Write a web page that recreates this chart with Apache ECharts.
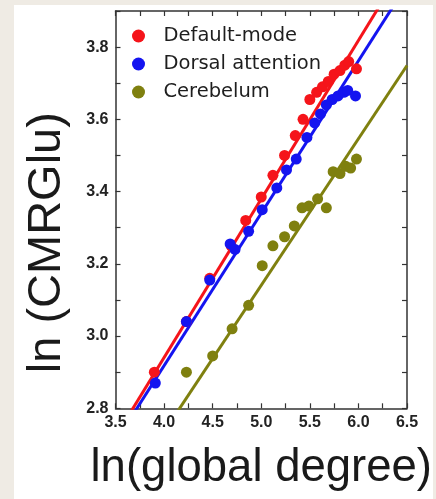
<!DOCTYPE html>
<html>
<head>
<meta charset="utf-8">
<script src="https://cdn.jsdelivr.net/npm/echarts@6/dist/echarts.min.js"></script>
<style>
html,body{margin:0;padding:0;background:#efebe4;}
#panel{position:absolute;left:14px;top:5px;width:419px;height:494px;background:#ffffff;}
#chart{position:absolute;left:0;top:0;width:436px;height:499px;}
</style>
</head>
<body>
<div id="panel"></div>
<div id="chart"></div>
<script>
// Series data: [ln(global degree), ln(CMRGlu)]
const defaultMode = [
  [3.90, 2.90], [4.23, 3.04], [4.47, 3.16], [4.69, 3.25], [4.84, 3.32],
  [5.00, 3.385], [5.12, 3.445], [5.24, 3.50], [5.35, 3.555], [5.43, 3.60],
  [5.50, 3.655], [5.57, 3.675], [5.63, 3.69], [5.69, 3.705], [5.75, 3.725],
  [5.81, 3.735], [5.86, 3.75], [5.90, 3.76], [5.98, 3.74]
];
const dorsalAttention = [
  [3.91, 2.87], [4.23, 3.04], [4.47, 3.155], [4.68, 3.255], [4.73, 3.24],
  [4.87, 3.29], [5.01, 3.35], [5.16, 3.41], [5.26, 3.46], [5.36, 3.49],
  [5.47, 3.55], [5.55, 3.59], [5.61, 3.615], [5.67, 3.64], [5.73, 3.655],
  [5.79, 3.665], [5.85, 3.675], [5.89, 3.68], [5.97, 3.665]
];
const cerebelum = [
  [4.23, 2.90], [4.50, 2.945], [4.70, 3.02], [4.87, 3.085], [5.01, 3.195],
  [5.12, 3.25], [5.24, 3.275], [5.34, 3.305], [5.42, 3.355], [5.49, 3.36],
  [5.58, 3.38], [5.67, 3.355], [5.74, 3.455], [5.81, 3.45], [5.87, 3.47],
  [5.92, 3.465], [5.98, 3.49]
];
// Fitted lines (endpoints)
const fitDefaultMode = [[3.5, 2.721], [6.5, 4.038]];
const fitDorsalAttention = [[3.5, 2.707], [6.5, 3.973]];
const fitCerebelum = [[4.0, 2.735], [6.5, 3.749]];

const seriesNames = ['Default-mode', 'Dorsal attention', 'Cerebelum'];
const colors = ['#f5141a', '#1414f0', '#7f800f'];
const xTitle = 'ln(global degree)';
const yTitle = 'ln (CMRGlu)';

const axisColor = '#333333';
const tickLabelStyle = {fontFamily: 'Liberation Sans, Arial, sans-serif', fontWeight: 'bold', fontSize: 16, color: '#222222'};

function xAxisBase(pos, showLabels) {
  return {
    type: 'value', position: pos, min: 3.5, max: 6.5, interval: 0.25,
    axisLine: {show: true, onZero: false, lineStyle: {color: axisColor, width: 1.5}},
    axisTick: {show: true, inside: true, length: 5, lineStyle: {color: axisColor, width: 1.2}},
    splitLine: {show: false},
    axisLabel: Object.assign({
      show: showLabels, margin: 6,
      formatter: v => (Math.round(v * 4) % 2 === 0 ? v.toFixed(1) : '')
    }, tickLabelStyle)
  };
}
function yAxisBase(pos, showLabels) {
  return {
    type: 'value', position: pos, min: 2.8, max: 3.9, interval: 0.1,
    axisLine: {show: true, onZero: false, lineStyle: {color: axisColor, width: 1.5}},
    axisTick: {show: true, inside: true, length: 5, lineStyle: {color: axisColor, width: 1.2}},
    splitLine: {show: false},
    axisLabel: Object.assign({
      show: showLabels, margin: 7,
      formatter: v => (Math.round(v * 10) % 2 === 0 ? v.toFixed(1) : '')
    }, tickLabelStyle)
  };
}

const xMain = xAxisBase('bottom', true);
xMain.name = xTitle;
xMain.nameLocation = 'middle';
xMain.nameGap = 37;
xMain.nameTextStyle = {fontFamily: 'Liberation Sans, Arial, sans-serif', fontSize: 45.5, color: '#1a1a1a'};

const yMain = yAxisBase('left', true);
yMain.name = yTitle;
yMain.nameLocation = 'middle';
yMain.nameGap = 45;
yMain.nameTextStyle = {fontFamily: 'Liberation Sans, Arial, sans-serif', fontSize: 47, color: '#1a1a1a', padding: [0, 66, 0, 0]};

const chart = echarts.init(document.getElementById('chart'), null, {renderer: 'canvas'});
chart.setOption({
  backgroundColor: 'transparent',
  animation: false,
  grid: {left: 115.5, right: 29, top: 11, bottom: 90.7, containLabel: false},
  xAxis: [xMain, xAxisBase('top', false)],
  yAxis: [yMain, yAxisBase('right', false)],
  legend: {
    data: seriesNames,
    orient: 'vertical',
    left: 127, top: 21,
    icon: 'circle',
    itemWidth: 40, itemHeight: 13, itemGap: 8,
    textStyle: {fontFamily: 'DejaVu Sans, sans-serif', fontSize: 19.5, color: '#1e1e1e'}
  },
  series: [
    {name: 'fit ' + seriesNames[1], type: 'line', data: fitDorsalAttention, showSymbol: false, clip: true,
     lineStyle: {color: colors[1], width: 3}, z: 2, silent: true},
    {name: 'fit ' + seriesNames[0], type: 'line', data: fitDefaultMode, showSymbol: false, clip: true,
     lineStyle: {color: colors[0], width: 3}, z: 2, silent: true},
    {name: 'fit ' + seriesNames[2], type: 'line', data: fitCerebelum, showSymbol: false, clip: true,
     lineStyle: {color: colors[2], width: 3}, z: 2, silent: true},
    {name: seriesNames[0], type: 'scatter', data: defaultMode, symbol: 'circle', symbolSize: 11,
     itemStyle: {color: colors[0], opacity: 1}, z: 3},
    {name: seriesNames[1], type: 'scatter', data: dorsalAttention, symbol: 'circle', symbolSize: 11,
     itemStyle: {color: colors[1], opacity: 1}, z: 3},
    {name: seriesNames[2], type: 'scatter', data: cerebelum, symbol: 'circle', symbolSize: 11,
     itemStyle: {color: colors[2], opacity: 1}, z: 3}
  ]
});
</script>
</body>
</html>
